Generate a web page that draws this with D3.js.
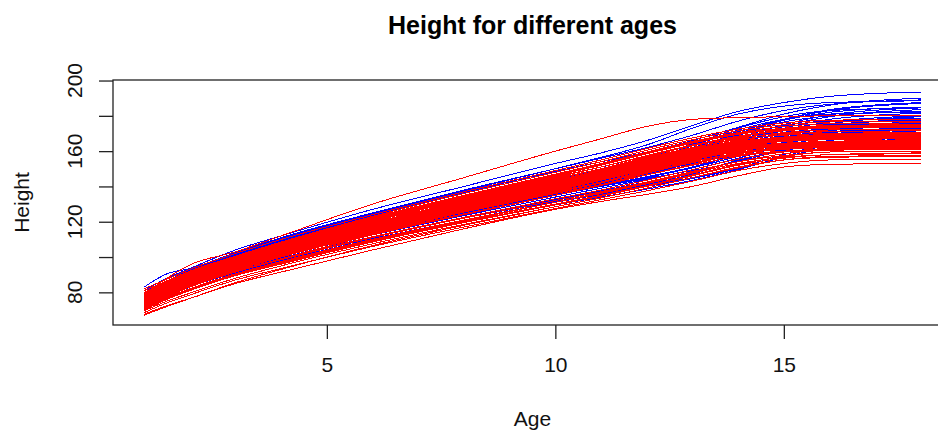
<!DOCTYPE html>
<html>
<head>
<meta charset="utf-8">
<script src="https://cdn.jsdelivr.net/npm/d3@7"></script>
<style>
  body { margin: 0; background: #fff; }
  svg { display: block; font-family: "Liberation Sans", Arial, sans-serif; }
  .line { fill: none; stroke-width: 1; shape-rendering: crispEdges; }
</style>
</head>
<body>
<svg></svg>
<script>
var ages = [1, 1.5, 2, 3, 4, 6, 8, 10, 11, 12, 13, 14, 15, 16, 18];

var yTicks = [80, 100, 120, 140, 160, 180, 200];
var yLabels = [80, 120, 160, 200];
var xTicks = [5, 10, 15];

// boys, one row per child (cm)
var boys = [
  [81, 88, 93.5, 104, 112, 127, 140, 153, 159, 166, 174.5, 182.5, 187.5, 191, 193.5],
  [83, 90.5, 93.5, 102.5, 111, 125, 138, 150, 156, 162, 169, 177, 183, 186.5, 189],
  [79.5, 86.5, 92.5, 102, 110.5, 124.5, 137.5, 150, 156.5, 163.5, 173, 181, 185.5, 187.5, 188.5],
  [79, 85.5, 91.5, 101, 109, 123.5, 136.5, 148.5, 154, 159.5, 166, 173.5, 181, 186, 190],
  [77.5, 84, 90, 99, 107, 121, 133.5, 145, 151, 157, 163.5, 171, 178, 183, 187],
  [78, 84.5, 90, 98.5, 106, 119.5, 132, 143.5, 149.5, 155.5, 162, 170, 177.5, 182, 185],
  [77, 83.5, 89.5, 98.5, 106, 119.5, 132, 143.5, 149, 154.5, 160.5, 167.5, 175, 180.5, 184.5],
  [76.5, 83, 88.5, 97.5, 105, 118.5, 131, 142.5, 148, 154, 161, 169.5, 176.5, 180, 182.5],
  [77, 83.5, 89, 98, 105.5, 119, 131.5, 142.5, 148.5, 155, 163, 172, 178, 181, 182],
  [76, 82.5, 88, 97, 104.5, 118, 130, 141, 146.5, 152, 158, 165.5, 173, 178, 181.5],
  [75.5, 82, 87.5, 96.5, 104, 117.5, 129.5, 140.5, 146, 151.5, 157.5, 165, 172, 176.5, 180],
  [76.5, 83, 88.5, 97, 104.5, 117.5, 129.5, 140.5, 146.5, 153, 160.5, 169, 174.5, 177, 178.5],
  [75, 81.5, 87, 96, 103.5, 116.5, 128.5, 139.5, 145, 150.5, 156, 163, 170.5, 175.5, 179.5],
  [76, 82.5, 88, 96.5, 104, 117, 129, 140, 145.5, 151, 157.5, 165, 171.5, 175, 177.5],
  [74.5, 81, 86.5, 95, 102.5, 115.5, 127.5, 138.5, 144, 149.5, 155, 162, 169.5, 174.5, 178],
  [75.5, 82, 87.5, 96, 103.5, 116.5, 128, 139, 144.5, 150.5, 157.5, 166, 172, 174.5, 176],
  [77, 83, 88.5, 97, 104, 117, 128.5, 139, 144, 149, 154.5, 161, 168.5, 174, 178.5],
  [74, 80.5, 86, 94.5, 102, 115, 127, 138, 143.5, 149, 155, 162.5, 169, 173, 175.5],
  [75, 81.5, 87, 95.5, 103, 116, 127.5, 138, 143, 148.5, 154, 160.5, 167.5, 172.5, 176.5],
  [76.5, 82.5, 88, 96.5, 103.5, 116, 127.5, 138.5, 144, 150, 157, 165, 170, 172.5, 174],
  [73.5, 80, 85.5, 94, 101.5, 114.5, 126, 137, 142.5, 148, 154, 161, 167.5, 171.5, 174.5],
  [74.5, 81, 86.5, 95, 102, 114.5, 125.5, 135.5, 140, 144.5, 149, 154, 161, 168, 175],
  [75, 81.5, 87, 95.5, 102.5, 115, 126.5, 137, 142, 147.5, 153.5, 161.5, 167.5, 170.5, 172.5],
  [73, 79.5, 85, 93.5, 101, 113.5, 125, 135.5, 140.5, 145.5, 151, 158, 165, 169.5, 173],
  [74, 80.5, 86, 94, 101, 113.5, 124.5, 135, 140, 145, 150.5, 157, 164, 169, 172.5],
  [72.5, 79, 84.5, 93, 100.5, 113, 124.5, 135, 140, 145, 151, 158.5, 164.5, 168, 170.5],
  [73.5, 80, 85.5, 93.5, 100.5, 112.5, 123.5, 134, 139, 144, 149.5, 156, 163, 168, 171.5],
  [72, 78.5, 84, 92.5, 99.5, 111.5, 122, 131.5, 136, 140.5, 145, 150.5, 158, 164, 169],
  [73, 79, 84.5, 92.5, 99.5, 111.5, 122.5, 132.5, 137.5, 142.5, 148, 154.5, 161.5, 166, 169.5],
  [71.5, 77.5, 83, 91.5, 98, 109.5, 120, 129.5, 134, 138.5, 143.5, 149.5, 157, 163.5, 168],
  [72.5, 78.5, 84, 92, 99, 110.5, 121, 131, 135.5, 140, 144.5, 150, 156.5, 162.5, 167.5],
  [71, 77.5, 83, 91, 98, 110, 121, 131, 136, 141, 147, 155, 160.5, 163, 165],
  [78, 84.5, 90, 98.5, 106, 120, 132.5, 144, 150, 156.5, 164, 173, 179.5, 183, 184.5],
  [77.5, 84, 89.5, 98, 105, 118.5, 130.5, 141.5, 147, 152.5, 158.5, 166, 174, 179.5, 183.5],
  [74.5, 81, 86.5, 95, 102.5, 115.5, 127, 137.5, 142.5, 148, 154, 162, 169, 172.5, 174.5],
  [76, 82, 87.5, 96, 103.5, 116.5, 128, 138.5, 143.5, 148.5, 154, 160.5, 167, 172, 176],
  [73.5, 80, 85.5, 94.5, 102, 114.5, 126, 136.5, 141.5, 147, 153.5, 161.5, 168, 171, 173],
  [80, 86.5, 92, 101.5, 109.5, 124, 137, 148.5, 154, 159, 164.5, 171, 178, 183.5, 187.5],
  [75, 81.5, 87, 95.5, 103, 116, 127.5, 138, 143, 148, 153, 159.5, 166.5, 172, 177]
];

// girls, one row per child (cm)
var girls = [
  [79, 88, 95.5, 103, 112, 130, 145, 160, 167, 174, 178, 179, 179.5, 180, 180],
  [67.5, 72.5, 76.5, 85, 91.5, 104, 116, 127, 131.5, 135.5, 140, 146, 151, 152.5, 153],
  [68.5, 74, 78.5, 87, 93.5, 106, 117, 127.5, 132.5, 137.5, 143, 149, 153, 155, 155.5],
  [67, 72, 76.5, 85.5, 93, 106.5, 118, 128.5, 133.5, 139, 145, 151, 155, 156.5, 157],
  [70, 76, 81, 89.5, 96, 108.5, 119.5, 129.5, 134.5, 140, 146, 152, 156, 158, 158.5],
  [71, 77, 82, 90.5, 97.5, 110, 121, 131, 136, 141.5, 147.5, 153, 156.5, 158, 159],
  [70.5, 76.5, 81.5, 90, 97, 109.5, 120.5, 131, 136.5, 142, 148, 154, 158.5, 160.5, 161],
  [72, 78, 83, 91.5, 98.5, 111, 122, 132, 137, 142.5, 148.5, 154, 157.5, 159.5, 160],
  [71.5, 77.5, 83, 91.5, 99, 112.5, 124, 135, 141, 147.5, 153.5, 157.5, 159.5, 160.5, 161],
  [72.5, 78.5, 83.5, 92, 99, 111.5, 122.5, 133, 138, 143.5, 149.5, 155.5, 159.5, 161.5, 162],
  [73, 79, 84.5, 93, 100.5, 113.5, 125.5, 136.5, 142.5, 149, 154.5, 158, 160, 161, 161.5],
  [72, 78, 83.5, 92.5, 100, 113.5, 125.5, 136.5, 142, 148, 154, 159, 161.5, 162.5, 163],
  [73.5, 79.5, 85, 94, 101.5, 114.5, 126, 137, 142.5, 148.5, 154, 158.5, 161, 162, 162.5],
  [73, 79, 84.5, 93.5, 101, 114.5, 126.5, 137.5, 143.5, 150, 155.5, 159.5, 162, 163, 163.5],
  [74, 80, 85.5, 94.5, 102, 115, 127, 138, 143.5, 149.5, 155, 160, 163, 164, 164.5],
  [73.5, 79.5, 85, 94, 101.5, 115, 127, 138.5, 144.5, 151, 156.5, 160.5, 162.5, 163.5, 164],
  [74.5, 80.5, 86, 95, 102.5, 115.5, 127.5, 138.5, 144, 150, 156, 161, 164, 165, 165.5],
  [74, 80, 85.5, 94.5, 102, 115.5, 127.5, 139, 145, 151.5, 157, 161, 163.5, 164.5, 165],
  [75, 81, 86.5, 95.5, 103, 116, 128, 139, 144.5, 150.5, 156.5, 161.5, 164.5, 165.5, 166.5],
  [74.5, 80.5, 86, 95, 102.5, 116, 128.5, 140, 146, 152.5, 158, 162, 164, 165, 165.5],
  [75.5, 81.5, 87, 96, 103.5, 117, 129, 140, 145.5, 151.5, 157.5, 162.5, 165.5, 166.5, 167],
  [75, 81, 86.5, 95.5, 103.5, 117, 129, 140.5, 146.5, 153, 158.5, 162.5, 164.5, 165.5, 166],
  [76, 82, 87.5, 96.5, 104, 117.5, 129.5, 140.5, 146, 152, 158, 163, 166, 167, 167.5],
  [75.5, 81.5, 87, 96, 104, 117.5, 130, 141.5, 147.5, 154, 159.5, 163.5, 165.5, 166.5, 167],
  [76.5, 82.5, 88, 97, 104.5, 118, 130, 141, 146.5, 152.5, 158.5, 163.5, 167, 168, 168.5],
  [76, 82, 87.5, 96.5, 104.5, 118, 130.5, 142, 148, 154.5, 160, 164, 166, 167, 167.5],
  [77, 83, 88.5, 97.5, 105, 118.5, 130.5, 141.5, 147, 153, 159, 164, 167.5, 168.5, 169],
  [76.5, 82.5, 88, 97, 105, 118.5, 131, 142.5, 148.5, 155, 160.5, 164.5, 166.5, 167.5, 168],
  [77.5, 83.5, 89, 98, 105.5, 119, 131, 142, 147.5, 153.5, 159.5, 164.5, 168, 169.5, 170],
  [77, 83, 88.5, 97.5, 105.5, 119, 131.5, 143, 149, 155.5, 161, 165, 167.5, 168.5, 169],
  [78, 84, 89.5, 98.5, 106, 119.5, 132, 143.5, 149, 155, 161, 166, 169.5, 171, 171.5],
  [77.5, 83.5, 89, 98, 106, 120, 132.5, 144, 150, 156.5, 162, 166.5, 169, 170, 170.5],
  [78.5, 84.5, 90, 99, 107, 120.5, 133, 144.5, 150, 156, 162, 167, 170.5, 172, 172.5],
  [78, 84, 89.5, 98.5, 106.5, 120.5, 133.5, 145, 151, 157.5, 163, 167.5, 170, 171, 171.5],
  [79, 85, 90.5, 99.5, 107.5, 121.5, 134, 145.5, 151, 157, 163, 168, 171.5, 173, 173.5],
  [79.5, 85.5, 91, 100, 108, 122, 134.5, 146, 152, 158.5, 164.5, 169.5, 172.5, 174, 174.5],
  [80, 86, 91.5, 100.5, 108.5, 122.5, 135, 147, 153, 159.5, 165.5, 170.5, 174, 175.5, 176],
  [79, 85, 90.5, 99.5, 107.5, 121.5, 134.5, 146.5, 152.5, 159, 165, 170, 173, 174.5, 175],
  [81, 86.5, 92, 100.5, 108.5, 123, 136, 148, 154, 160.5, 166.5, 171.5, 175, 176.5, 177],
  [73, 79, 84.5, 93.5, 101, 114, 125.5, 136, 141, 146.5, 152.5, 158.5, 162.5, 164, 164.5],
  [75, 81, 86.5, 95.5, 103, 116.5, 128.5, 140, 146, 152.5, 158, 162, 164.5, 165.5, 166],
  [76, 82, 87.5, 96.5, 104, 117.5, 129.5, 140.5, 146, 152, 158, 163.5, 167.5, 169, 169.5],
  [72.5, 78.5, 84, 92.5, 100, 113, 124.5, 135, 140.5, 146.5, 152, 157, 160, 161, 161.5],
  [71, 76.5, 81.5, 89.5, 96.5, 109, 120, 130, 135, 140.5, 146.5, 152.5, 157, 159.5, 160],
  [74, 80, 85.5, 94.5, 102, 115.5, 127.5, 138.5, 144, 150, 155.5, 160.5, 164, 165.5, 166],
  [77, 83, 88.5, 97.5, 105, 118.5, 130.5, 142, 148, 154.5, 160, 164, 166.5, 167.5, 168],
  [75.5, 81.5, 87, 96, 103.5, 117, 129, 140, 145.5, 151.5, 157.5, 162.5, 166, 167.5, 168],
  [78.5, 84.5, 90, 99, 107, 121, 133.5, 145, 151, 157.5, 163.5, 168.5, 172, 173.5, 174],
  [69.5, 75, 79.5, 88, 95, 107.5, 118.5, 128.5, 133.5, 139, 145, 150.5, 155, 157, 157.5],
  [74.5, 80.5, 86, 95, 102.5, 116, 128, 139.5, 145.5, 152, 157.5, 161.5, 163.5, 164.5, 165],
  [76, 82, 87.5, 96.5, 104, 117.5, 129.5, 141, 147, 153.5, 159, 163.5, 166, 167, 167.5],
  [73.5, 79.5, 85, 94, 101.5, 115, 127, 138, 143.5, 149.5, 155.5, 160.5, 163.5, 164.5, 165],
  [82, 87.5, 93, 102, 110, 124, 137, 149, 155, 161.5, 167.5, 172.5, 176, 177.5, 178],
  [77, 83, 88.5, 97.5, 105, 118.5, 131, 143, 149.5, 156, 161.5, 165.5, 168, 169, 169.5]
];

var svgWidth = 938, svgHeight = 433;
// plot box, the right edge runs past the window like in the original
var box = { left: 113, right: 952, top: 80, bottom: 325 };

var svg = d3.select("svg")
  .attr("width", svgWidth)
  .attr("height", svgHeight);

// R style 4% padding around the data range
var x = d3.scaleLinear().domain([0.32, 18.68]).range([box.left, box.right]);
var y = d3.scaleLinear().domain([61.5, 200.3]).range([box.bottom, box.top]);

var line = d3.line()
  .x(function(d, i) { return x(ages[i]); })
  .y(function(d) { return y(d); })
  .curve(d3.curveMonotoneX);

// boys first, girls drawn on top
svg.append("g").selectAll("path")
  .data(boys)
  .enter().append("path")
  .attr("class", "line")
  .attr("stroke", "#0000ff")
  .attr("d", line);

svg.append("g").selectAll("path")
  .data(girls)
  .enter().append("path")
  .attr("class", "line")
  .attr("stroke", "#ff0000")
  .attr("d", line);

// box
svg.append("rect")
  .attr("x", box.left)
  .attr("y", box.top)
  .attr("width", box.right - box.left)
  .attr("height", box.bottom - box.top)
  .attr("fill", "none")
  .attr("stroke", "#222")
  .attr("stroke-width", 1.3);

// x axis
var xAxis = svg.append("g")
  .attr("transform", "translate(0," + box.bottom + ")")
  .call(d3.axisBottom(x).tickValues(xTicks).tickSize(14).tickPadding(18).tickFormat(d3.format("d")));
xAxis.select(".domain").remove();
xAxis.selectAll("line").attr("stroke", "#222").attr("stroke-width", 1.3);
xAxis.selectAll("text")
  .attr("fill", "#111")
  .style("font-size", "21px")
  .style("font-family", "Liberation Sans, Arial, sans-serif");

// y axis, ticks every 20 but labels only every 40
var yAxis = svg.append("g")
  .attr("transform", "translate(" + box.left + ",0)")
  .call(d3.axisLeft(y).tickValues(yTicks).tickSize(14).tickFormat(""));
yAxis.select(".domain").remove();
yAxis.selectAll("line").attr("stroke", "#222").attr("stroke-width", 1.3);

svg.append("g").selectAll("text")
  .data(yLabels)
  .enter().append("text")
  .attr("transform", function(d) { return "translate(82," + y(d) + ") rotate(-90)"; })
  .attr("text-anchor", "middle")
  .attr("fill", "#111")
  .style("font-size", "21px")
  .text(function(d) { return d; });

// titles
svg.append("text")
  .attr("x", (box.left + box.right) / 2)
  .attr("y", 34)
  .attr("text-anchor", "middle")
  .style("font-size", "25px")
  .style("font-weight", "bold")
  .text("Height for different ages");

svg.append("text")
  .attr("x", (box.left + box.right) / 2)
  .attr("y", 426)
  .attr("text-anchor", "middle")
  .style("font-size", "21px")
  .attr("fill", "#111")
  .text("Age");

svg.append("text")
  .attr("transform", "translate(29," + (box.top + box.bottom) / 2 + ") rotate(-90)")
  .attr("text-anchor", "middle")
  .style("font-size", "21px")
  .attr("fill", "#111")
  .text("Height");
</script>
</body>
</html>
